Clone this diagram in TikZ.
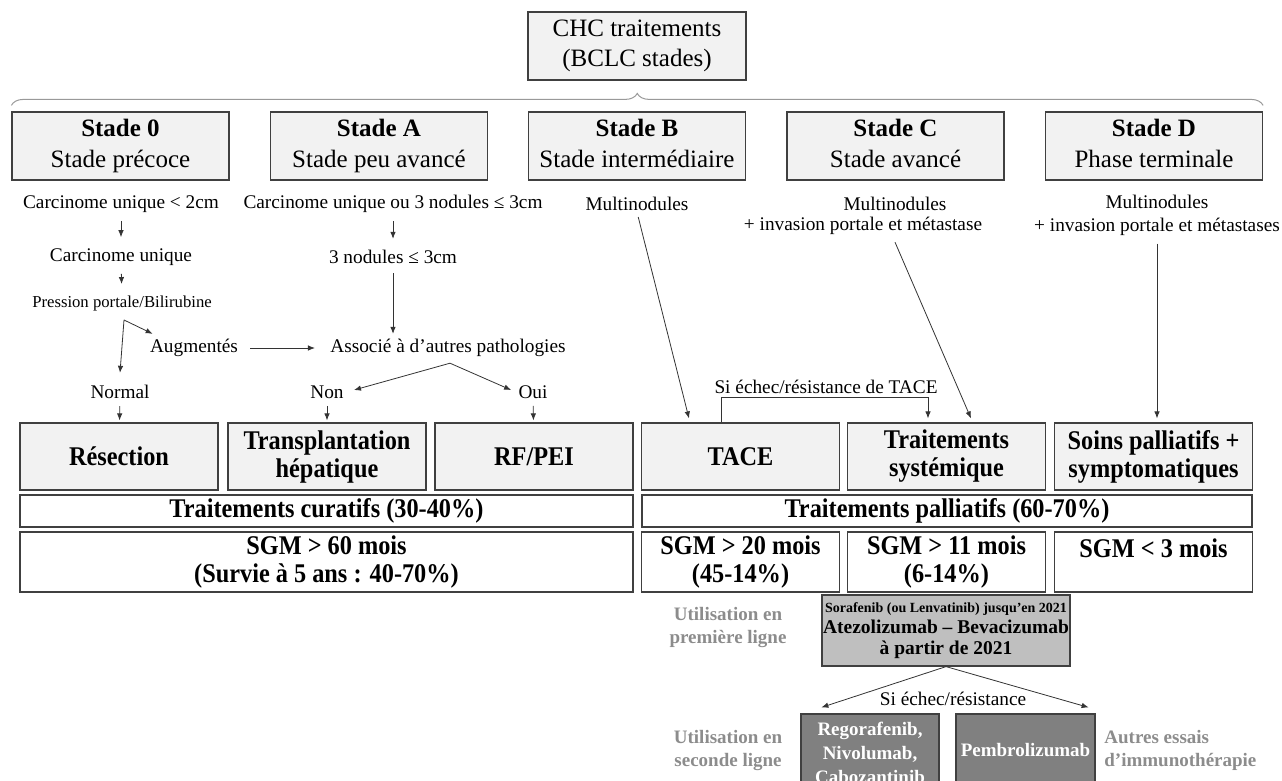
\documentclass[tikz,border=0pt]{standalone}
\usepackage{fontspec}
\setmainfont{Liberation Serif}
\newfontfamily\boxfont[FakeStretch=0.9]{Liberation Serif}
\usetikzlibrary{calc,arrows.meta,decorations.pathreplacing}

\begin{document}
\begin{tikzpicture}[>={Latex[length=7pt,width=5.5pt]}, x=1pt, y=-1pt, line width=0.8pt]
			\tikzset{box/.style= {draw=black!75, line width=1.2pt, fill=black!5, align=center, inner sep=0pt},
				stage/.style={box, minimum width=217pt, minimum height=68pt, font=\fontsize{25}{31}\selectfont},
				treat/.style={box, minimum width=198pt, minimum height=67pt, font=\boxfont\fontsize{27}{28}\selectfont\bfseries},
				band/.style={box, fill=white, minimum height=32pt, font=\boxfont\fontsize{27}{28}\selectfont\bfseries},
				sgm/.style={box, fill=white, minimum height=60pt, font=\boxfont\fontsize{27}{28}\selectfont\bfseries},
				txt/.style={inner sep=1pt, align=center, font=\fontsize{19.3}{23}\selectfont},
				note/.style={inner sep=0pt, text=black!45, font=\fontsize{19}{23}\selectfont\bfseries},
				link/.style={draw=black!80, ->},
				short/.style={link, shorten <=7pt, shorten >=10pt},
				drop/.style={link, shorten <=6pt, shorten >=2pt},
			}
			\useasboundingbox (0,0) rectangle (1282,780);
			\clip (0,0) rectangle (1282,780);

			\node [box, minimum width=218pt, minimum height=68pt, font=\fontsize{25}{30}\selectfont] (chc) at (637,46) {CHC traitements\\(BCLC stades)};

			% stades
			\node [stage] (s0) at (120.5,146) {\textbf{Stade 0}\\Stade précoce\vphantom{p}};
			\node [stage] (sA) at (379,146) {\textbf{Stade A}\\Stade peu avancé\vphantom{p}};
			\node [stage] (sB) at (637,146) {\textbf{Stade B}\\Stade intermédiaire\vphantom{p}};
			\node [stage] (sC) at (895.5,146) {\textbf{Stade C}\\Stade avancé\vphantom{p}};
			\node [stage] (sD) at (1154,146) {\textbf{Stade D}\\Phase terminale\vphantom{p}};

			\path[draw=black!40, line width=1pt, decorate, decoration={brace, amplitude=12pt}]
			([yshift=6pt]s0.north west) -- ([yshift=6pt]sD.north east);

			\node [txt] (c0a) at (121,204) {Carcinome unique < 2cm};
			\node [txt] (c0b) at (121,257) {Carcinome unique};
			\node [txt, font=\fontsize{16.7}{20}\selectfont] (c0c) at (122,303) {Pression portale/Bilirubine};
			\node [txt] (aug) at (194,348) {Augmentés};
			\node [txt] (normal) at (120,392) {Normal};
			\node [txt] (cAa) at (393,204) {Carcinome unique ou 3 nodules ≤ 3cm};
			\node [txt] (cAb) at (393,257) {3 nodules ≤ 3cm};
			\node [txt] (assoc) at (448,348) {Associé à d’autres pathologies};
			\node [txt] (non) at (327,392) {Non};
			\node [txt] (oui) at (533,392) {Oui};
			\node [txt] (multiB) at (637,204) {Multinodules};
			\node [txt] (multiC) at (895,204) {Multinodules};
			\node [txt] (invC) at (863,226) {+ invasion portale et métastase};
			\node [txt] (multiD) at (1157,215) {Multinodules\\+ invasion portale et métastases};
			\node [txt] (sitace) at (826,387) {Si échec/résistance de TACE};

			% traitements
			\node [treat] (res) at (119,456.5) {Résection};
			\node [treat] (trans) at (327,456.5) {Transplantation\\hépatique};
			\node [treat] (rf) at (534,456.5) {RF/PEI};
			\node [treat] (tace) at (740.5,456.5) {TACE};
			\node [treat] (syst) at (946.5,456.5) {Traitements\\systémique};
			\node [treat] (soins) at (1153.5,456.5) {Soins palliatifs +\\symptomatiques};

			\node [band, minimum width=613pt] (cur) at (326.5,511) {Traitements curatifs (30-40\%)};
			\node [band, minimum width=610pt] (pal) at (947,511) {Traitements palliatifs (60-70\%)};

			\node [sgm, minimum width=613pt] (sgmcur) at (326.5,562) {SGM > 60 mois\\(Survie à 5 ans~: 40-70\%)};
			\node [sgm, minimum width=198pt] (sgmtace) at (740.5,562) {SGM > 20 mois\\(45-14\%)};
			\node [sgm, minimum width=198pt] (sgmsyst) at (946.5,562) {SGM > 11 mois\\(6-14\%)};
			\node [sgm, minimum width=198pt] (sgmsoins) at (1153.5,562) {SGM < 3 mois\\\mbox{}};

			\node [box, fill=black!25, minimum width=248pt, minimum height=71pt, font=\fontsize{19.5}{21}\selectfont\bfseries] (ligne1) at (946,630.5)
			{{\fontsize{14}{16}\selectfont Sorafenib (ou Lenvatinib) jusqu’en 2021}\\Atezolizumab – Bevacizumab\\à partir de 2021};
			\node [box, fill=black!50, text=white, minimum width=138pt, minimum height=78pt, font=\fontsize{19}{24}\selectfont\bfseries] (reg) at (870,753)
			{Regorafenib,\\Nivolumab,\\Cabozantinib};
			\node [box, fill=black!50, text=white, minimum width=139pt, minimum height=78pt, font=\fontsize{19}{24}\selectfont\bfseries] (pemb) at (1025.5,753)
			{\raisebox{6pt}{Pembrolizumab}};
			\node [txt] (sifail) at (953,699) {Si échec/résistance};

			\node [note, align=center] (use1) at (728,627) {Utilisation en\\première ligne};
			\node [note, align=center] (use2) at (728,750) {Utilisation en\\seconde ligne};
			\node [note, align=left, anchor=west] (autres) at (1104,750) {Autres essais\\d’immunothérapie};

			% stade 0 / A
			\path[short] (c0a) -- (c0b);
			\path[short] (c0b) -- (c0c);
			\coordinate (split) at ($(c0c.south)+(2,8)$);
			\path[link] (split) -- ($(aug.north west)+(4,-4)$);
			\path[link] (split) -- ([yshift=11pt]normal.north);
			\path[link, shorten <=11pt, shorten >=14pt] (aug.east) -- (assoc.west);
			\path[short] (cAa) -- (cAb);
			\path[link, shorten <=8pt, shorten >=4pt] (cAb.south) -- (cAb.south |- assoc.north);
			\coordinate (fork) at ($(assoc.south)+(2,5)$);
			\path[link] (fork) -- ($(non.east)+(9,-2)$);
			\path[link] (fork) -- ($(oui.west)+(-6,-2)$);
			\path[drop] (normal) -- (res);
			\path[drop] (non) -- (trans);
			\path[drop] (oui) -- (rf);

			% stade B / C / D
			\path[link, shorten <=5pt] (multiB.south) -- ($(tace.north)+(-51.5,-4)$);
			\path[link] ([xshift=-19.5pt]tace.north) -- ++(0,-25) -| ($(syst.north)+(-18.5,-4)$);
			\path[link] ($(invC.south -| multiC.south)+(0,6)$) -- ($(syst.north)+(24.5,-4)$);
			\path[link, shorten <=7pt, shorten >=4pt] (multiD.south) -- (multiD.south |- soins.north);

			% lignes de traitement
			\path[link] (ligne1.south) -- ($(reg.north west)+(21,-6)$);
			\path[link] (ligne1.south) -- ($(pemb.north east)+(-7,-6)$);
		\end{tikzpicture}
\end{document}
